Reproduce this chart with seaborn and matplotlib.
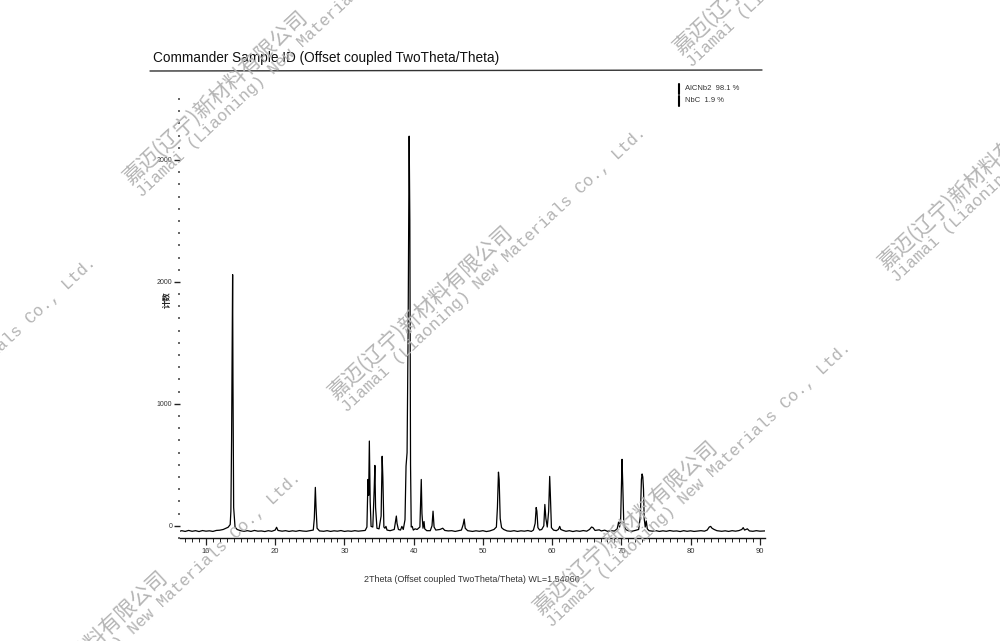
import matplotlib
matplotlib.use("Agg")
import numpy as np
import pandas as pd
import matplotlib.pyplot as plt
import seaborn as sns
from matplotlib.lines import Line2D
from matplotlib.ticker import MultipleLocator

# ---------------- data (2Theta, counts) ----------------
region_05_20 = [
    (6.25, -44), (6.5, -40), (7.0, -46), (7.5, -38), (8.0, -45), (8.5, -40), (9.0, -47),
    (9.5, -39), (10.0, -44), (10.5, -41), (11.0, -46), (11.5, -38), (12.0, -36), (12.5, -30),
    (12.9, -20), (13.2, -12), (13.5, 10), (13.6, 120), (13.7, 700), (13.8, 1600), (13.85, 2060),
    (13.9, 1200), (14.0, 150), (14.2, -10), (14.5, -30), (15.0, -40), (15.5, -45), (16.0, -40),
    (16.5, -46), (17.0, -38), (17.5, -44), (18.0, -42), (18.5, -47), (19.0, -40), (19.5, -45),
    (20.0, -35), (20.2, -12), (20.4, -38),
]
region_20_33 = [
    (21.0, -44), (21.5, -40), (22.0, -46), (22.5, -41), (23.0, -45), (23.5, -39), (24.0, -43),
    (24.5, -45), (25.0, -40), (25.5, -35), (25.65, 60), (25.75, 250), (25.8, 315), (25.9, 150),
    (26.05, -20), (26.4, -42), (27.0, -45), (27.5, -40), (28.0, -46), (28.5, -41), (29.0, -44),
    (29.5, -39), (30.0, -46), (30.5, -42), (31.0, -45), (31.5, -40), (32.0, -44), (32.5, -41),
]
region_33_44 = [
    (33.0, -38), (33.25, -10), (33.4, 380), (33.5, 250), (33.6, 695), (33.72, 200), (33.85, -5),
    (34.1, -10), (34.3, 300), (34.4, 495), (34.5, 150), (34.7, -20), (35.0, -25), (35.3, 80),
    (35.45, 570), (35.55, 400), (35.7, -10), (35.85, -20), (36.0, -5), (36.15, -35), (36.6, -40),
    (37.2, -30), (37.4, 40), (37.5, 80), (37.6, 20), (37.8, -30), (38.1, -35), (38.3, -5),
    (38.5, -30), (38.75, 50), (38.9, 490), (39.05, 600), (39.2, 1600), (39.35, 3195), (39.45, 2500),
    (39.55, 500), (39.65, -10), (39.8, -5), (39.95, -35), (40.2, -25), (40.5, -30), (40.9, -10),
    (41.0, 200), (41.1, 380), (41.2, 100), (41.35, -20), (41.5, 35), (41.6, -25), (41.9, -40),
    (42.4, -40), (42.65, 0), (42.8, 120), (42.95, -10), (43.2, -35), (43.8, -30), (44.2, -20),
    (44.5, -38),
]
region_45_62 = [
    (45.0, -42), (45.5, -40), (46.0, -46), (46.5, -40), (46.9, -35), (47.15, 10), (47.3, 55),
    (47.45, -20), (47.8, -40), (48.5, -46), (49.0, -41), (49.5, -45), (50.0, -40), (50.5, -47),
    (51.0, -42), (51.6, -30), (51.95, -10), (52.1, 150), (52.25, 440), (52.35, 380), (52.5, 60),
    (52.7, -15), (53.0, -30), (53.5, -42), (54.0, -45), (54.5, -40), (55.0, -46), (55.5, -41),
    (56.0, -44), (56.5, -39), (57.0, -46), (57.3, -35), (57.55, 20), (57.7, 150), (57.8, 120),
    (57.95, -15), (58.2, -35), (58.5, -30), (58.8, 0), (58.95, 175), (59.1, 60), (59.3, -10),
    (59.5, 120), (59.65, 405), (59.75, 250), (59.9, -15), (60.2, -35), (60.6, -40), (60.9, -30),
    (61.1, -5), (61.25, -30), (61.6, -38),
]
region_62_91 = [
    (62.0, -45), (62.5, -40), (63.0, -47), (63.5, -41), (64.0, -45), (64.5, -39), (65.0, -44),
    (65.4, -30), (65.7, -10), (65.9, -15), (66.2, -38), (66.8, -33), (67.1, -42), (67.6, -36),
    (68.0, -45), (68.5, -40), (69.0, -43), (69.4, -25), (69.6, 30), (69.75, -10), (69.9, 50),
    (70.0, 300), (70.1, 545), (70.2, 350), (70.35, 20), (70.6, -30), (71.0, -40), (71.5, -45),
    (72.0, -38), (72.5, -30), (72.75, 80), (72.9, 380), (73.0, 425), (73.1, 400), (73.2, 300),
    (73.3, 60), (73.45, -10), (73.6, 40), (73.75, -25), (74.0, -40), (74.5, -44), (75.0, -40),
    (75.5, -46), (76.0, -41), (76.5, -45), (77.0, -39), (77.5, -44), (78.0, -42), (78.5, -47),
    (79.0, -40), (79.5, -45), (80.0, -41), (80.5, -46), (81.0, -43), (81.5, -40), (82.0, -44),
    (82.4, -35), (82.7, -10), (82.9, -5), (83.1, -20), (83.4, -30), (83.8, -40), (84.5, -45),
    (85.0, -41), (85.5, -46), (86.0, -40), (86.5, -44), (87.0, -39), (87.4, -30), (87.6, -15),
    (87.8, -35), (88.2, -25), (88.5, -42), (89.0, -45), (89.5, -40), (90.0, -44), (90.75, -42),
]

x_ticks = [10, 20, 30, 40, 50, 60, 70, 80, 90]
y_ticks = [0, 1000, 2000, 3000]
legend_phases = ["AlCNb2", "NbC"]
legend_amounts = ["98.1 %", "1.9 %"]

title_text = "Commander Sample ID (Offset coupled TwoTheta/Theta)"
xlabel_text = "2Theta (Offset coupled TwoTheta/Theta) WL=1.54060"
ylabel_text = "计数"
wm_cn = "嘉迈(辽宁)新材料有限公司"
wm_en = "Jiamai (Liaoning) New Materials Co., Ltd."

# ---------------- figure ----------------
sns.set_theme(style="white")
plt.rcParams["font.family"] = ["Liberation Sans", "DejaVu Sans"]

W, H = 1000, 641
fig = plt.figure(figsize=(10, 6.41), dpi=100)
fig.patch.set_facecolor("white")


def fx(px):
    return px / W


def fy(py):
    return 1 - py / H


ax = fig.add_axes([fx(180), fy(538), fx(765) - fx(180), fy(88) - fy(538)])
ax.set_facecolor("white")

pairs = region_05_20 + region_20_33 + region_33_44 + region_45_62 + region_62_91
df = pd.DataFrame(pairs, columns=["two_theta", "counts"])
sns.lineplot(data=df, x="two_theta", y="counts", ax=ax, color="black",
             linewidth=0.9, sort=False, estimator=None)

ax.set_xlim(6.25, 90.75)
ax.set_ylim(-100, 3590)
ax.set_xticks(x_ticks)
ax.set_yticks(y_ticks)
ax.xaxis.set_minor_locator(MultipleLocator(1))
ax.yaxis.set_minor_locator(MultipleLocator(100))
ax.set_xlabel("")
ax.set_ylabel("")

ax.tick_params(which="both", bottom=True, left=True, top=False, right=False)
ax.tick_params(axis="x", which="major", direction="out", length=5, width=0.9,
               labelsize=5.5, pad=2, color="#222222", labelcolor="#333333")
ax.tick_params(axis="x", which="minor", direction="out", length=3, width=0.7, color="#222222")
ax.tick_params(axis="y", which="major", direction="out", length=4, width=1.0,
               labelsize=5, pad=1.5, color="#222222", labelcolor="#333333")
ax.tick_params(axis="y", which="minor", direction="out", length=1.2, width=1.4, color="#666666")

for s in ["top", "right", "left"]:
    ax.spines[s].set_visible(False)
ax.spines["bottom"].set_color("#111111")
ax.spines["bottom"].set_linewidth(1.0)

# title and rule
fig.text(fx(153), fy(58), title_text, fontsize=9.8, color="#111111", va="center", ha="left")
fig.add_artist(Line2D([fx(150), fx(762)], [fy(71), fy(70)], color="#333333", lw=1.0))

# axis labels
fig.text(fx(472), fy(580), xlabel_text, fontsize=6.5, color="#333333", ha="center", va="center")
fig.text(fx(167), fy(300), ylabel_text, fontsize=6, rotation=90, ha="center", va="center",
         family=["Noto Sans CJK SC", "DejaVu Sans"], weight="bold", color="#222222")

# legend
for i, (ph, amt) in enumerate(zip(legend_phases, legend_amounts)):
    yc = 89 + i * 12
    fig.add_artist(Line2D([fx(679), fx(679)], [fy(yc - 5), fy(yc + 5)], color="black", lw=1.5))
    fig.text(fx(685), fy(yc), f"{ph}  {amt}", fontsize=5.5, color="#333333", va="center", ha="left")

# watermarks
ang = 43
rad = np.deg2rad(ang)
nx, ny = np.sin(rad), np.cos(rad)  # perpendicular (image coords, pointing down-right)
starts = [(130, 185), (335, 400), (540, 615), (680, 55), (885, 270), (-215, 530), (-10, 745)]
for sx, sy in starts:
    fig.text(fx(sx), fy(sy), wm_cn, fontsize=15, rotation=ang, rotation_mode="anchor",
             ha="left", va="baseline", color="#b4b4b4", family=["Noto Sans CJK SC", "DejaVu Sans"],
             weight="light", zorder=10)
    ex, ey = sx + 17 * nx, sy + 17 * ny
    fig.text(fx(ex), fy(ey), wm_en, fontsize=12, rotation=ang, rotation_mode="anchor",
             ha="left", va="baseline", color="#b4b4b4", family=["Liberation Mono", "DejaVu Sans Mono"],
             zorder=10)

fig.savefig("out.png", dpi=100, facecolor="white")
